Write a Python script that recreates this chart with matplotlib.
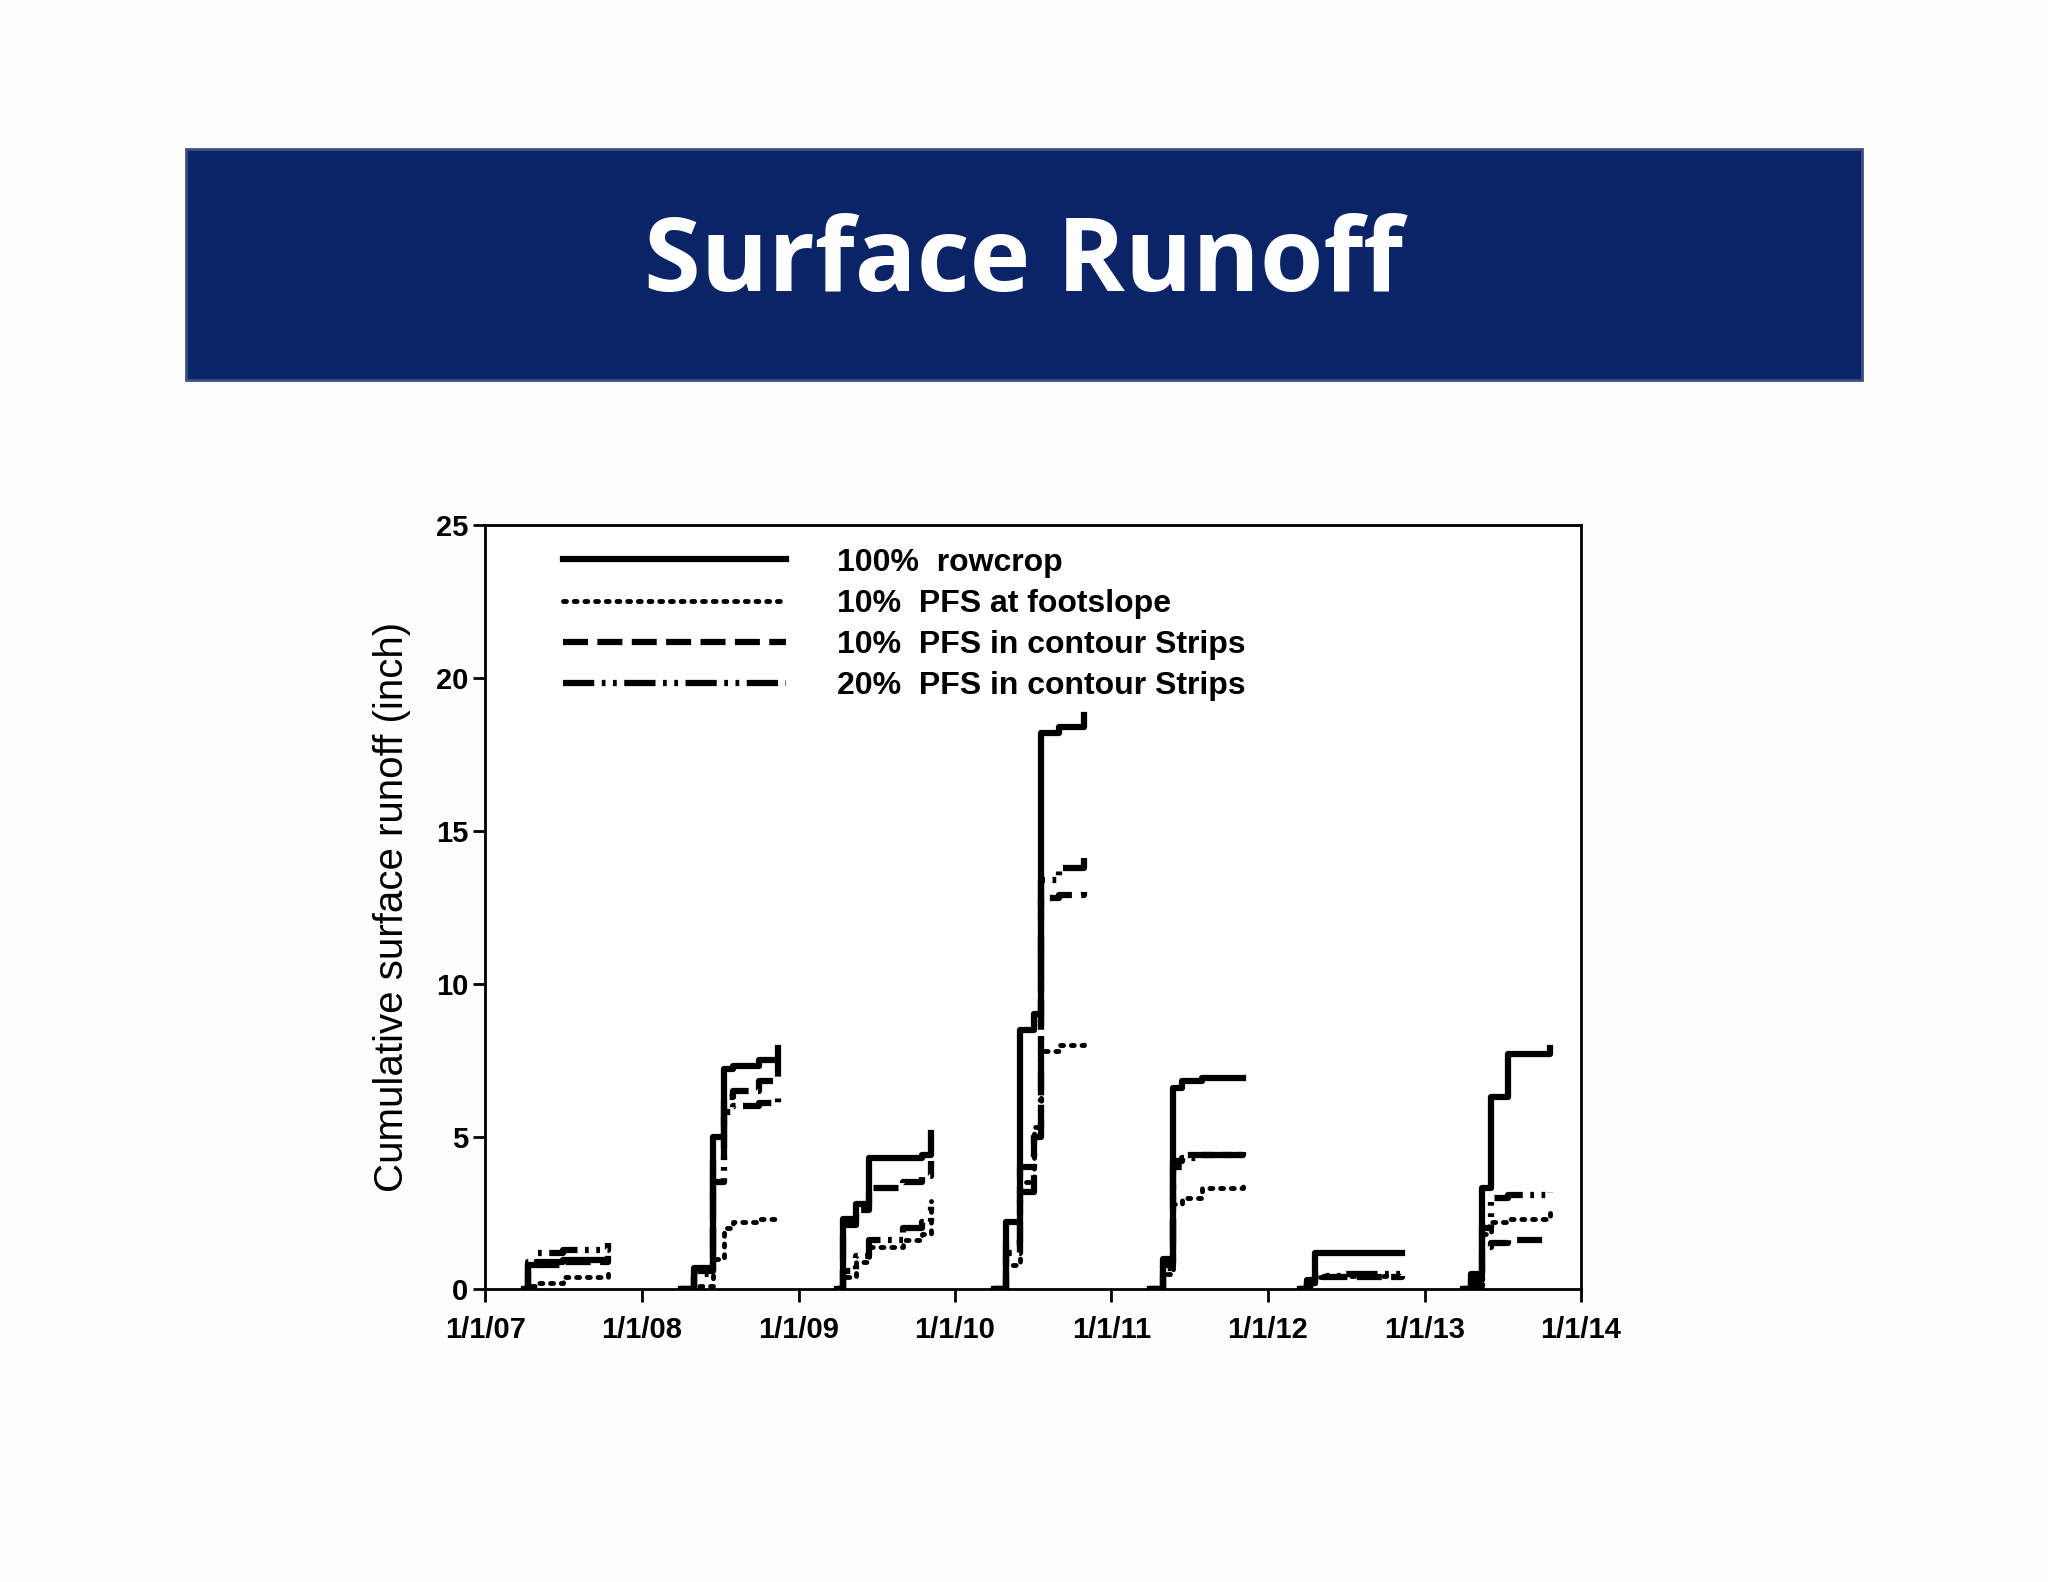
import matplotlib
matplotlib.use("Agg")
import matplotlib.pyplot as plt
import matplotlib.dates as mdates
import numpy as np
import datetime as dt
from matplotlib.patches import Rectangle

# 每个生长季的(日期, 累积径流) —— 从图中读取
season_dates = [
    ["2007-04-01", "2007-04-10", "2007-05-01", "2007-07-01", "2007-10-15"],
    ["2008-04-01", "2008-05-01", "2008-06-15", "2008-07-10", "2008-08-01", "2008-10-01", "2008-11-15"],
    ["2009-04-01", "2009-04-15", "2009-05-15", "2009-06-15", "2009-09-01", "2009-10-15", "2009-11-05"],
    ["2010-04-01", "2010-05-01", "2010-06-01", "2010-07-05", "2010-07-20", "2010-09-01", "2010-10-28"],
    ["2011-04-01", "2011-05-01", "2011-05-25", "2011-06-15", "2011-08-01", "2011-11-05"],
    ["2012-03-15", "2012-04-01", "2012-04-20", "2012-07-01", "2012-11-10"],
    ["2013-04-01", "2013-04-20", "2013-05-15", "2013-06-05", "2013-07-15", "2013-10-20"],
]

rowcrop = [
    [0, 0.8, 0.9, 0.95, 1.0],
    [0, 0.7, 5.0, 7.2, 7.3, 7.5, 7.9],
    [0, 2.3, 2.8, 4.3, 4.3, 4.4, 5.1],
    [0, 2.2, 8.5, 9.0, 18.2, 18.4, 18.8],
    [0, 1.0, 6.6, 6.8, 6.9, 6.9],
    [0, 0.3, 1.2, 1.2, 1.2],
    [0, 0.5, 3.3, 6.3, 7.7, 7.9],
]
foot10 = [
    [0, 0.1, 0.2, 0.4, 0.7],
    [0, 0.1, 1.0, 2.0, 2.2, 2.3, 2.3],
    [0, 0.4, 0.9, 1.4, 1.6, 1.8, 2.9],
    [0, 0.8, 3.5, 5.3, 7.8, 8.0, 8.1],
    [0, 0.5, 2.8, 3.0, 3.3, 3.5],
    [0, 0.1, 0.4, 0.45, 0.5],
    [0, 0.2, 1.8, 2.2, 2.3, 2.5],
]
strip10 = [
    [0, 0.6, 0.8, 0.9, 1.0],
    [0, 0.6, 4.2, 6.3, 6.5, 6.8, 7.5],
    [0, 2.1, 2.6, 3.3, 3.5, 3.7, 4.2],
    [0, 1.5, 4.0, 5.0, 12.8, 12.9, 13.0],
    [0, 0.8, 4.2, 4.4, 4.4, 4.5],
    [0, 0.2, 0.4, 0.4, 0.45],
    [0, 0.1, 1.4, 1.5, 1.6, 1.6],
]
strip20 = [
    [0, 0.9, 1.2, 1.3, 1.5],
    [0, 0.5, 3.5, 5.8, 6.0, 6.1, 6.3],
    [0, 0.6, 1.1, 1.6, 2.0, 2.2, 2.9],
    [0, 1.2, 3.2, 5.0, 13.4, 13.8, 14.1],
    [0, 0.7, 4.0, 4.3, 4.4, 4.5],
    [0, 0.2, 0.45, 0.5, 0.5],
    [0, 0.3, 2.0, 3.0, 3.1, 3.2],
]

labels = ["100%  rowcrop", "10%  PFS at footslope",
          "10%  PFS in contour Strips", "20%  PFS in contour Strips"]
x_ticks = ["2007-01-01", "2008-01-01", "2009-01-01", "2010-01-01",
           "2011-01-01", "2012-01-01", "2013-01-01", "2014-01-01"]
x_tick_labels = ["1/1/07", "1/1/08", "1/1/09", "1/1/10", "1/1/11", "1/1/12", "1/1/13", "1/1/14"]


def to_dates(strs):
    return [dt.datetime.strptime(s, "%Y-%m-%d") for s in strs]


fig = plt.figure(figsize=(20.48, 15.82), dpi=100)
fig.patch.set_facecolor("#fdfdfd")

# 标题栏
fig.patches.append(Rectangle((0.091, 0.760), 0.818, 0.146, transform=fig.transFigure,
                             facecolor="#0b2468", edgecolor="#3a4f86", lw=2))
fig.text(0.5, 0.833, "Surface Runoff", color="white", ha="center", va="center",
         fontsize=74, fontweight="bold", family="Open Sans")

ax = fig.add_axes([0.237, 0.185, 0.535, 0.483])
ax.set_facecolor("white")

styles = [
    dict(ls="-", lw=4.5),
    dict(ls=(0, (0.6, 1.6)), lw=3.5, dash_capstyle="round"),
    dict(ls=(0, (4, 1.5)), lw=4.5),
    dict(ls=(0, (5, 1.2, 0.6, 1.2, 0.6, 1.2)), lw=4.5),
]
series = [rowcrop, foot10, strip10, strip20]
for data, st, lab in zip(series, styles, labels):
    first = True
    for ds, vals in zip(season_dates, data):
        ax.plot(to_dates(ds), vals, color="black", drawstyle="steps-post",
                label=lab if first else None, **st)
        first = False

ax.set_xlim(dt.datetime(2007, 1, 1), dt.datetime(2014, 1, 1))
ax.set_ylim(0, 25)
ax.set_xticks(to_dates(x_ticks))
ax.set_xticklabels(x_tick_labels)
ax.set_yticks([0, 5, 10, 15, 20, 25])
for lbl in ax.get_xticklabels() + ax.get_yticklabels():
    lbl.set_fontweight("bold")
    lbl.set_family("Liberation Sans")
ax.tick_params(labelsize=21, width=2, length=9, direction="out")
ax.tick_params(axis="x", pad=10)
for sp in ax.spines.values():
    sp.set_linewidth(2)
ax.set_ylabel("Cumulative surface runoff (inch)", fontsize=29, family="Liberation Sans", labelpad=18)

leg = ax.legend(loc="upper left", frameon=False, prop={"family": "Liberation Sans", "weight": "bold", "size": 23},
                handlelength=7, handletextpad=1.6, labelspacing=0.35, borderaxespad=0.3,
                bbox_to_anchor=(0.05, 1.0))

fig.savefig("out.png", dpi=100, facecolor=fig.get_facecolor())
